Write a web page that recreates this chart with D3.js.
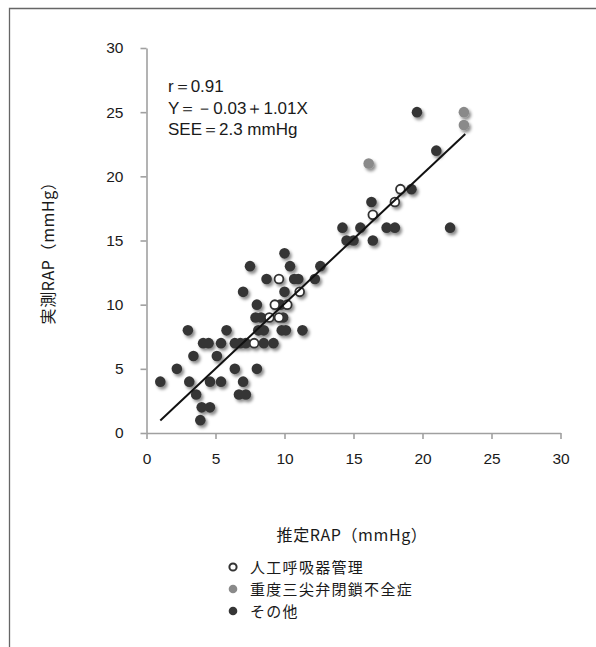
<!DOCTYPE html>
<html><head><meta charset="utf-8">
<script src="https://cdn.jsdelivr.net/npm/d3@7/dist/d3.min.js"></script>
<style>
html,body{margin:0;padding:0;background:#fff;}
svg{display:block;}
text{font-family:"Liberation Sans",Arial,sans-serif;fill:#1a1a1a;}
.jp{font-family:"Noto Sans CJK JP","Liberation Sans",sans-serif;}
</style></head>
<body>
<script>
// ---- data ----
const xTicks = [0, 5, 10, 15, 20, 25, 30];
const yTicks = [0, 5, 10, 15, 20, 25, 30];
// その他 (estimated RAP, measured RAP)
const otherX = [1.0,2.2,3.0,3.1,3.4,3.6,4.0,4.6,3.9,4.1,4.5,4.6,5.4,5.1,5.4,5.8,6.4,6.4,6.8,7.2,7.0,6.7,7.2,8.0,8.5,9.2,8.0,7.9,8.3,9.9,8.1,8.5,9.8,10.1,11.3,9.7,10.0,7.5,10.4,12.6,8.7,10.7,11.0,12.2,7.0,10.0,14.2,15.5,17.4,18.0,22.0,14.5,15.0,16.4,16.3,19.2,21.0,19.6];
const otherY = [4,5,8,4,6,3,2,2,1,7,7,4,4,6,7,8,5,7,7,7,4,3,3,5,7,7,10,9,9,9,8,8,8,8,8,10,14,13,13,13,12,12,12,12,11,11,16,16,16,16,16,15,15,15,18,19,22,25];
// 人工呼吸器管理
const ventX = [7.8,8.9,9.6,9.3,10.2,11.1,9.6,16.4,18.0,18.4];
const ventY = [7,9,9,10,10,11,12,17,18,19];
// 重度三尖弁閉鎖不全症
const trX = [16.1,23.0,23.0];
const trY = [21,24,25];
// regression line Y = -0.03 + 1.01X
const regIntercept = -0.03, regSlope = 1.01;
const regRange = [1.0, 23.1];
const statLines = ["r＝0.91", "Y＝－0.03＋1.01X", "SEE＝2.3 mmHg"];
const legendLabels = ["人工呼吸器管理", "重度三尖弁閉鎖不全症", "その他"];
const xTitle = "推定RAP（mmHg）";
const yTitle = "実測RAP（mmHg）";

// ---- drawing ----
const W = 596, H = 647;
const svg = d3.select("body").append("svg").attr("width", W).attr("height", H);
const defs = svg.append("defs");
const f = defs.append("filter").attr("id","sh").attr("x","-50%").attr("y","-50%").attr("width","220%").attr("height","220%");
f.append("feDropShadow").attr("dx",2).attr("dy",2.5).attr("stdDeviation",1.8).attr("flood-color","#000").attr("flood-opacity",0.45);

// frame
svg.append("path").attr("d", `M9.5,${H} L9.5,8.5 L${W},8.5`).attr("fill","none").attr("stroke","#666").attr("stroke-width",1.3);

const x = d3.scaleLinear().domain([0,30]).range([146.5,560.5]);
const y = d3.scaleLinear().domain([0,30]).range([433,48]);

const gx = svg.append("g").attr("transform",`translate(0,${y(0)})`)
  .call(d3.axisBottom(x).tickValues(xTicks).tickSize(6).tickPadding(14).tickSizeOuter(0));
const gy = svg.append("g").attr("transform",`translate(${x(0)},0)`)
  .call(d3.axisLeft(y).tickValues(yTicks).tickSize(6).tickPadding(17).tickSizeOuter(0));
[gx,gy].forEach(g=>{
  g.select(".domain").attr("stroke","#a0a0a0").attr("stroke-width",1.6);
  g.selectAll(".tick line").attr("stroke","#a0a0a0").attr("stroke-width",1.6);
  g.selectAll(".tick text").attr("font-size",15.5).attr("fill","#1a1a1a").attr("font-family","Liberation Sans, Arial, sans-serif");
});

// points
const pts = svg.append("g").attr("filter","url(#sh)");
pts.selectAll("circle.o").data(d3.range(otherX.length)).join("circle").attr("class","o")
  .attr("cx",i=>x(otherX[i])).attr("cy",i=>y(otherY[i])).attr("r",5.3).attr("fill","#363636");
pts.selectAll("circle.t").data(d3.range(trX.length)).join("circle").attr("class","t")
  .attr("cx",i=>x(trX[i])).attr("cy",i=>y(trY[i])).attr("r",5.3).attr("fill","#8a8a8a");
pts.selectAll("circle.v").data(d3.range(ventX.length)).join("circle").attr("class","v")
  .attr("cx",i=>x(ventX[i])).attr("cy",i=>y(ventY[i])).attr("r",4.4).attr("fill","#fff").attr("stroke","#333").attr("stroke-width",1.8);

// regression line
svg.append("line")
  .attr("x1",x(regRange[0])).attr("y1",y(regIntercept+regSlope*regRange[0]))
  .attr("x2",x(regRange[1])).attr("y2",y(regIntercept+regSlope*regRange[1]))
  .attr("stroke","#111").attr("stroke-width",2);

// stats text
svg.append("g").selectAll("text").data(statLines).join("text")
  .attr("x",168).attr("y",(d,i)=>92+i*21.5).attr("font-size",17).text(d=>d);

// axis titles
svg.append("text").attr("class","jp").attr("x",352).attr("y",541).attr("text-anchor","middle").attr("font-size",16).attr("letter-spacing",0.6).text(xTitle);
svg.append("text").attr("class","jp").attr("transform","translate(54,249) rotate(-90)").attr("text-anchor","middle").attr("font-size",16).attr("letter-spacing",0.6).text(yTitle);

// legend
const lg = svg.append("g");
const ly = [567, 589, 611];
lg.append("circle").attr("cx",233).attr("cy",ly[0]).attr("r",3.6).attr("fill","#fff").attr("stroke","#333").attr("stroke-width",2);
lg.append("circle").attr("cx",233).attr("cy",ly[1]).attr("r",4.3).attr("fill","#8a8a8a");
lg.append("circle").attr("cx",233).attr("cy",ly[2]).attr("r",4.3).attr("fill","#363636");
lg.selectAll("text").data(legendLabels).join("text").attr("class","jp")
  .attr("x",250).attr("y",(d,i)=>ly[i]+5.5).attr("font-size",15).attr("letter-spacing",1.3).text(d=>d);
</script>
</body></html>
